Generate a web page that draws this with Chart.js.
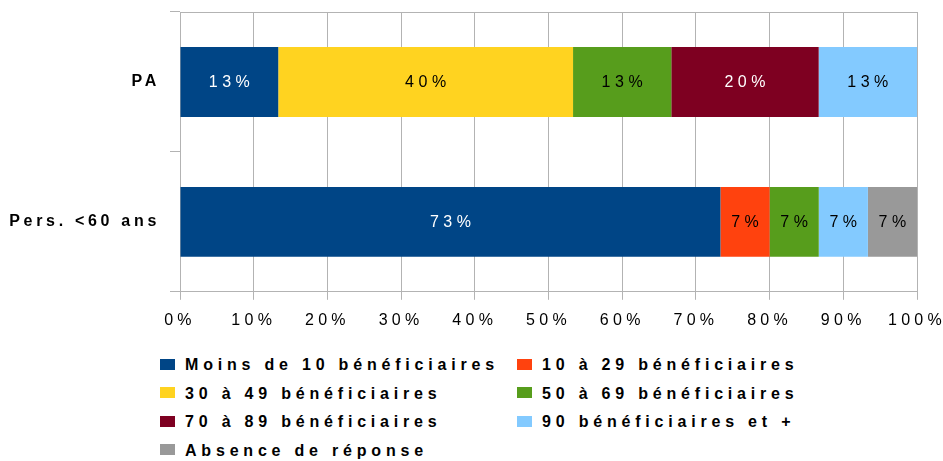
<!DOCTYPE html>
<html><head><meta charset="utf-8">
<script src="https://cdn.jsdelivr.net/npm/chart.js@4/dist/chart.umd.min.js"></script>
<style>
html,body{margin:0;padding:0;background:#fff;}
#wrap{position:relative;width:943px;height:461px;overflow:hidden;}
#chartBox{position:absolute;left:0;top:0;width:943px;height:346px;}
#legend{position:absolute;left:160px;top:351px;display:grid;grid-template-columns:357px 330px;}
.item{display:flex;align-items:center;height:28.5px;font:bold 16px "Liberation Sans",Arial,sans-serif;letter-spacing:4.8px;color:#000;white-space:nowrap;}
.sw{width:15px;height:11px;margin-right:10px;flex:none;position:relative;top:-1px;}
</style></head>
<body><div id="wrap"><div id="chartBox"><canvas id="c" width="943" height="346"></canvas></div><div id="legend"></div></div>
<script>
const categories = ['PA', 'Pers. <60 ans'];
const seriesNames = ['Moins de 10 bénéficiaires', '10 à 29 bénéficiaires', '30 à 49 bénéficiaires', '50 à 69 bénéficiaires', '70 à 89 bénéficiaires', '90 bénéficiaires et +', 'Absence de réponse'];
const seriesColors = ['#004586', '#ff420e', '#ffd320', '#579d1c', '#7e0021', '#83caff', '#999999'];
const labelColors = ['#ffffff', '#000000', '#000000', '#000000', '#ffffff', '#000000', '#000000'];
const moins10 = [13.33, 73.33];
const de10a29 = [null, 6.67];
const de30a49 = [40, null];
const de50a69 = [13.33, 6.67];
const de70a89 = [20, null];
const plus90 = [13.34, 6.67];
const absence = [null, 6.66];
const xTickValues = [0, 10, 20, 30, 40, 50, 60, 70, 80, 90, 100];
const seriesValues = [moins10, de10a29, de30a49, de50a69, de70a89, plus90, absence];

const LS_TICK = '4.3px', LS_Y = '3.7px', LS_DATA = '4.5px';
const FONT = '"Liberation Sans", Arial, sans-serif';

const spacingPlugin = {
  id: 'spacing',
  beforeUpdate(c) { c.ctx.letterSpacing = LS_TICK; },
  beforeDraw(c) { c.ctx.letterSpacing = LS_TICK; },
  afterLayout(c) {
    const ys = c.scales.y;
    if (ys && !ys._wrapped) {
      const proto = Object.getPrototypeOf(ys);
      ys.drawLabels = function (a) { this.ctx.letterSpacing = LS_Y; proto.drawLabels.call(this, a); this.ctx.letterSpacing = LS_TICK; };
      ys._wrapped = true;
    }
  },
  afterDraw(c) {
    const ctx = c.ctx, a = c.chartArea;
    ctx.save();
    ctx.strokeStyle = '#b3b3b3'; ctx.lineWidth = 1;
    ctx.beginPath(); ctx.moveTo(a.left, Math.round(a.top) + 0.5); ctx.lineTo(a.right + 0.5, Math.round(a.top) + 0.5); ctx.stroke();
    ctx.restore();
  }
};

const dataLabelPlugin = {
  id: 'dataLabels',
  afterDatasetsDraw(chart) {
    const ctx = chart.ctx;
    ctx.save();
    ctx.font = '16px ' + FONT;
    ctx.letterSpacing = LS_DATA;
    ctx.textAlign = 'center';
    ctx.textBaseline = 'middle';
    chart.data.datasets.forEach((ds, i) => {
      const meta = chart.getDatasetMeta(i);
      meta.data.forEach((bar, j) => {
        const v = ds.data[j];
        if (v == null) return;
        const p = bar.getProps(['x', 'y', 'base'], true);
        ctx.fillStyle = labelColors[i];
        ctx.fillText(Math.round(v) + '%', (p.x + p.base) / 2 + 2.2, p.y + 1);
      });
    });
    ctx.restore();
  }
};

new Chart(document.getElementById('c'), {
  type: 'bar',
  data: {
    labels: categories,
    datasets: seriesNames.map((n, i) => ({
      label: n, data: seriesValues[i], backgroundColor: seriesColors[i], borderWidth: 0,
      categoryPercentage: 1, barPercentage: 0.5
    }))
  },
  options: {
    indexAxis: 'y',
    responsive: false,
    animation: false,
    devicePixelRatio: 1,
    layout: { padding: { left: 0, right: 26, top: 12, bottom: 5 } },
    plugins: { legend: { display: false }, tooltip: { enabled: false } },
    scales: {
      x: {
        stacked: true, min: 0, max: 100,
        afterBuildTicks: s => { s.ticks = xTickValues.map(v => ({ value: v })); },
        afterFit: s => { s.paddingLeft = 0; s.paddingRight = 0; },
        ticks: { callback: v => v + '%', font: { size: 16, family: FONT }, color: '#000', padding: 11, maxRotation: 0, autoSkip: false },
        grid: { color: '#b3b3b3', tickLength: 8, lineWidth: 1 },
        border: { color: '#b3b3b3' }
      },
      y: {
        stacked: true,
        afterFit: s => { s.width = 180; s.paddingTop = 0; s.paddingBottom = 0; },
        ticks: { font: { size: 16, family: FONT, weight: 'bold' }, color: '#000', padding: 10 },
        grid: { drawOnChartArea: false, offset: true, tickLength: 10, color: '#b3b3b3' },
        border: { color: '#b3b3b3' }
      }
    }
  },
  plugins: [spacingPlugin, dataLabelPlugin]
});

const leg = document.getElementById('legend');
seriesNames.forEach((n, i) => {
  const d = document.createElement('div'); d.className = 'item';
  const s = document.createElement('span'); s.className = 'sw'; s.style.background = seriesColors[i];
  const t = document.createElement('span'); t.textContent = n;
  d.appendChild(s); d.appendChild(t); leg.appendChild(d);
});
</script></body></html>
